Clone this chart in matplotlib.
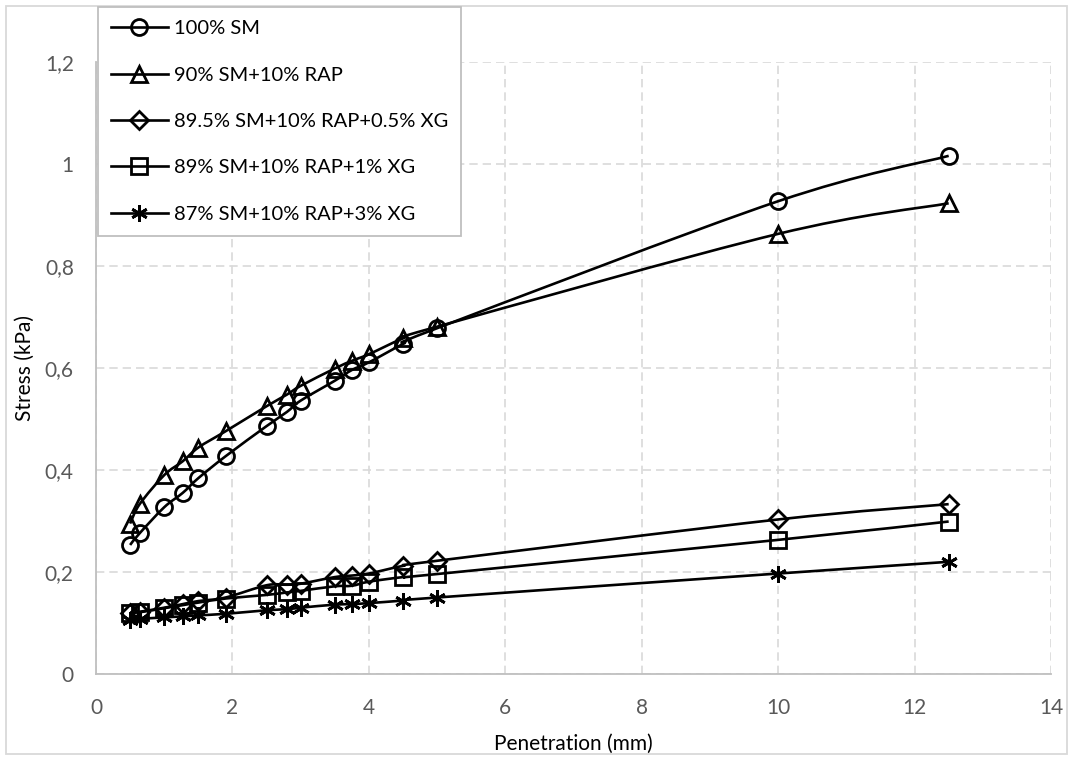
import numpy as np
import matplotlib
matplotlib.use("Agg")
import matplotlib.pyplot as plt
from matplotlib.path import Path
from matplotlib.patches import PathPatch, Rectangle
from matplotlib.lines import Line2D
from matplotlib.ticker import FuncFormatter

plt.rcParams['font.family'] = ['Lato', 'DejaVu Sans']

# penetration (mm)
penetration = [0.5, 0.64, 1.0, 1.27, 1.5, 1.9, 2.5, 2.8, 3.0, 3.5, 3.75, 4.0, 4.5, 5.0, 10.0, 12.5]

# stress (kPa) per mix
sm100 = [0.253, 0.276, 0.327, 0.355, 0.384, 0.427, 0.486, 0.514, 0.536, 0.575, 0.596, 0.611, 0.647, 0.678, 0.927, 1.016]
rap10 = [0.295, 0.333, 0.390, 0.417, 0.444, 0.476, 0.525, 0.548, 0.565, 0.599, 0.614, 0.627, 0.658, 0.681, 0.863, 0.923]
xg05 = [0.120, 0.122, 0.130, 0.137, 0.143, 0.150, 0.174, 0.175, 0.177, 0.190, 0.193, 0.197, 0.212, 0.222, 0.303, 0.333]
xg1 = [0.120, 0.121, 0.129, 0.135, 0.140, 0.148, 0.155, 0.160, 0.163, 0.172, 0.173, 0.181, 0.190, 0.196, 0.263, 0.299]
xg3 = [0.106, 0.108, 0.111, 0.113, 0.115, 0.118, 0.125, 0.127, 0.130, 0.136, 0.137, 0.139, 0.144, 0.150, 0.197, 0.220]

labels = ["100% SM", "90% SM+10% RAP", "89.5% SM+10% RAP+0.5% XG",
          "89% SM+10% RAP+1% XG", "87% SM+10% RAP+3% XG"]
series = [sm100, rap10, xg05, xg1, xg3]
markers = ['o', '^', 'D', 's', (6, 2, 0)]
msizes = [11.5, 11.5, 9.5, 11.5, 12]


def smooth_path(x, y):
    # excel-like smoothed line: cubic bezier through the points
    p = np.column_stack([x, y])
    n = len(p)
    verts = [p[0]]
    codes = [Path.MOVETO]
    for i in range(n - 1):
        p0 = p[max(i - 1, 0)]
        p1 = p[i]
        p2 = p[i + 1]
        p3 = p[min(i + 2, n - 1)]
        c1 = p1 + (p2 - p0) / 6
        c2 = p2 - (p3 - p1) / 6
        verts += [c1, c2, p2]
        codes += [Path.CURVE4] * 3
    return Path(verts, codes)


fig = plt.figure(figsize=(10.73, 7.6), dpi=100)
ax = fig.add_axes([96 / 1073, 1 - 674 / 760, (1051 - 96) / 1073, (674 - 62) / 760])

for vals, mk, ms in zip(series, markers, msizes):
    ax.add_patch(PathPatch(smooth_path(penetration, vals), fill=False,
                           edgecolor='black', lw=1.9, zorder=3))
    ax.plot(penetration, vals, ls='none', marker=mk, ms=ms, mfc='none',
            mec='black', mew=2.0, zorder=4)

ax.set_xlim(0, 14)
ax.set_ylim(0, 1.2)
ax.set_xticks(np.arange(0, 15, 2))
ax.set_yticks(np.arange(0, 1.21, 0.2))
ax.yaxis.set_major_formatter(FuncFormatter(lambda v, p: ('%g' % round(v, 1)).replace('.', ',')))
ax.tick_params(length=0, labelsize=15, labelcolor='#595959')
ax.tick_params(axis='x', pad=17)
ax.tick_params(axis='y', pad=16)
ax.grid(True, color='#d9d9d9', ls=(0, (5, 3)), lw=1.2)
ax.set_axisbelow(True)
for s in ['top', 'right']:
    ax.spines[s].set_visible(False)
for s in ['left', 'bottom']:
    ax.spines[s].set_color('#bfbfbf')
    ax.spines[s].set_linewidth(1.3)

fig.text(25 / 1073, 1 - 368 / 760, "Stress (kPa)", rotation=90, ha='center', va='center', fontsize=15)
fig.text(573 / 1073, 1 - 744 / 760, "Penetration (mm)", ha='center', va='center', fontsize=15)

handles = [Line2D([], [], color='black', lw=1.9, marker=mk, ms=ms, mfc='none', mec='black', mew=2.0)
           for mk, ms in zip(markers, msizes)]
leg = fig.legend(handles, labels, loc='upper left', bbox_to_anchor=(98 / 1073, 1 - 7 / 760),
                 borderaxespad=0, fontsize=14.5, handlelength=2.8, labelspacing=1.45,
                 borderpad=0.66, handletextpad=0.3, fancybox=False, framealpha=1,
                 edgecolor='#bfbfbf')
leg.get_frame().set_linewidth(1.3)
leg.set_zorder(10)

fig.patches.append(Rectangle((6 / 1073, 6 / 760), 1061 / 1073, 748 / 760, transform=fig.transFigure,
                             fill=False, edgecolor='#d9d9d9', lw=1.3))

fig.savefig("out.png", dpi=100)
